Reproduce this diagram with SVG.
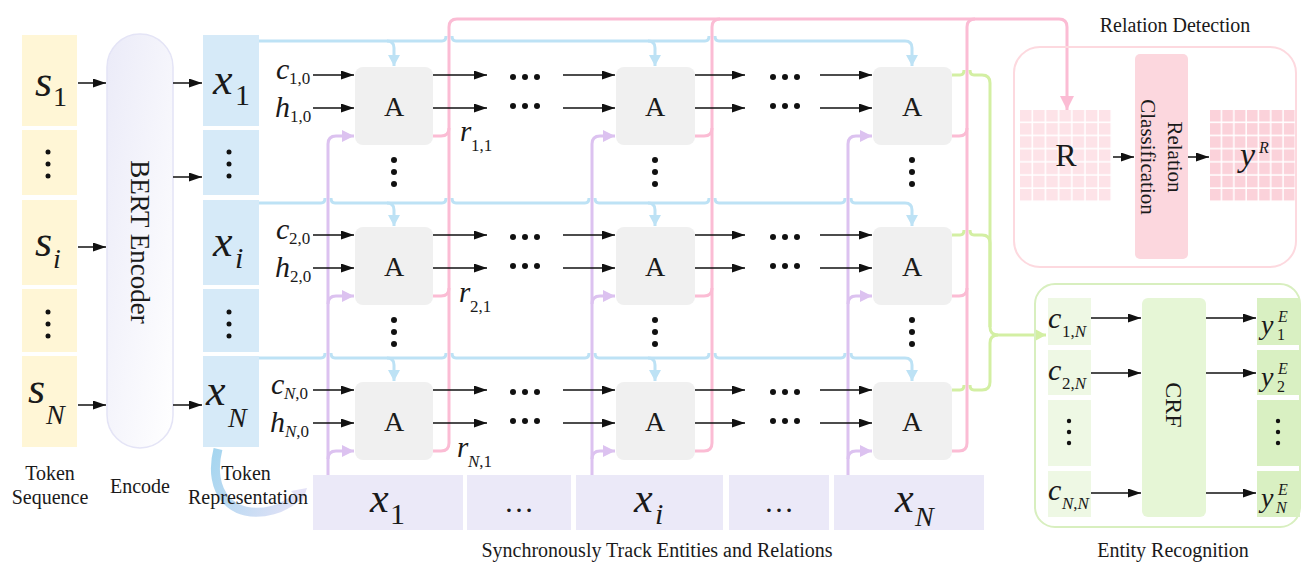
<svg xmlns="http://www.w3.org/2000/svg" width="1302" height="562" viewBox="0 0 1302 562">
<style>
.t{font-family:"Liberation Serif","Times New Roman",serif;fill:#1a1a1a}
.i{font-style:italic}
.lb{font-size:20px}
.blk{stroke:#111;stroke-width:1.5;fill:none}
.blue{stroke:#bde2f5;stroke-width:3;fill:none}
.pink{stroke:#fbbcd4;stroke-width:3;fill:none}
.purp{stroke:#dcc2f0;stroke-width:3;fill:none}
.grn{stroke:#d3efa3;stroke-width:3;fill:none}
.ybox{fill:#fff6d6}
.bbox{fill:#d6eaf8}
.abox{fill:#f0f0f0}
.xbox{fill:#ebe9f8}
.d{fill:#111}
</style>
<defs>
<marker id="ab" markerUnits="userSpaceOnUse" markerWidth="14" markerHeight="9" refX="13" refY="4.5" orient="auto"><path d="M0,0 L13,4.5 L0,9 z" fill="#111"/></marker>
<marker id="abl" markerUnits="userSpaceOnUse" markerWidth="13" markerHeight="12" refX="11" refY="6" orient="auto"><path d="M0,0 L11,6 L0,12 z" fill="#bde2f5"/></marker>
<marker id="apu" markerUnits="userSpaceOnUse" markerWidth="13" markerHeight="12" refX="12" refY="6" orient="auto"><path d="M0,0 L12,6 L0,12 z" fill="#dcc2f0"/></marker>
<marker id="api" markerUnits="userSpaceOnUse" markerWidth="15" markerHeight="14" refX="14" refY="7" orient="auto"><path d="M0,0 L14,7 L0,14 z" fill="#fbbcd4"/></marker>
<marker id="agr" markerUnits="userSpaceOnUse" markerWidth="12" markerHeight="12" refX="11" refY="6" orient="auto"><path d="M0,0 L11,6 L0,12 z" fill="#d3efa3"/></marker>
<linearGradient id="bertg" x1="0" y1="0" x2="1" y2="1"><stop offset="0" stop-color="#ebebf8"/><stop offset="1" stop-color="#ffffff"/></linearGradient>
<linearGradient id="curg" gradientUnits="userSpaceOnUse" x1="210" y1="450" x2="305" y2="500"><stop offset="0" stop-color="#a3d5ef"/><stop offset="1" stop-color="#e4e2f7"/></linearGradient>
<pattern id="gR" patternUnits="userSpaceOnUse" x="1020" y="110" width="13.15" height="13.15"><rect x="0" y="0" width="11.6" height="11.6" fill="#fde3e8"/></pattern>
<pattern id="gY" patternUnits="userSpaceOnUse" x="1210" y="110" width="12.3" height="13.15"><rect x="0" y="0" width="10.8" height="11.6" fill="#fbd2da"/></pattern>
</defs>
<rect width="1302" height="562" fill="#ffffff"/>

<g id="token-sequence">
<rect class="ybox" x="22" y="35" width="55" height="91"/>
<rect class="ybox" x="22" y="130" width="55" height="65"/>
<rect class="ybox" x="22" y="200" width="55" height="85"/>
<rect class="ybox" x="22" y="289" width="55" height="63"/>
<rect class="ybox" x="22" y="356" width="55" height="91"/>
<text class="t i" x="35" y="96" font-size="44">s</text><text class="t" x="53" y="106" font-size="28">1</text>
<circle class="d" cx="48" cy="152" r="2.5"/><circle class="d" cx="48" cy="164" r="2.5"/><circle class="d" cx="48" cy="176" r="2.5"/>
<text class="t i" x="35" y="256" font-size="44">s</text><text class="t i" x="53" y="268" font-size="28">i</text>
<circle class="d" cx="48" cy="312" r="2.5"/><circle class="d" cx="48" cy="324" r="2.5"/><circle class="d" cx="48" cy="336" r="2.5"/>
<text class="t i" x="28" y="403" font-size="44">s</text><text class="t i" x="46" y="424" font-size="28">N</text>
<text class="t lb" x="50" y="480" text-anchor="middle">Token</text>
<text class="t lb" x="50" y="504" text-anchor="middle">Sequence</text>
</g>

<g id="bert-encoder">
<rect x="107" y="34" width="66" height="414" rx="33" fill="url(#bertg)" stroke="#e4e4f6" stroke-width="1.5"/>
<text class="t" font-size="27" text-anchor="middle" transform="translate(131,242) rotate(90)">BERT Encoder</text>
<text class="t lb" x="140" y="493" text-anchor="middle">Encode</text>
</g>

<g id="token-representation">
<path d="M 218 449 C 207 492 232 521 273 510 C 284 507 291 502 297 497" stroke="url(#curg)" stroke-width="9" fill="none"/>
<polygon points="307,488 302,503 291,491" fill="#e4e2f7"/>
<rect class="bbox" x="203" y="35" width="56" height="91"/>
<rect class="bbox" x="203" y="130" width="56" height="65"/>
<rect class="bbox" x="203" y="200" width="56" height="85"/>
<rect class="bbox" x="203" y="289" width="56" height="63"/>
<rect class="bbox" x="203" y="356" width="56" height="91"/>
<text class="t i" x="213" y="94" font-size="44">x</text><text class="t" x="235" y="105" font-size="30">1</text>
<circle class="d" cx="229" cy="152" r="2.5"/><circle class="d" cx="229" cy="164" r="2.5"/><circle class="d" cx="229" cy="176" r="2.5"/>
<text class="t i" x="213" y="256" font-size="44">x</text><text class="t i" x="235" y="268" font-size="30">i</text>
<circle class="d" cx="229" cy="312" r="2.5"/><circle class="d" cx="229" cy="324" r="2.5"/><circle class="d" cx="229" cy="336" r="2.5"/>
<text class="t i" x="206" y="405" font-size="44">x</text><text class="t i" x="228" y="427" font-size="28">N</text>
<text class="t lb" x="246" y="480" text-anchor="middle">Token</text>
<text class="t lb" x="248" y="504" text-anchor="middle">Representation</text>
</g>

<g id="connectors">
<path class="blk" d="M78 83H106" marker-end="url(#ab)"/>
<path class="blk" d="M78 247H106" marker-end="url(#ab)"/>
<path class="blk" d="M78 405H106" marker-end="url(#ab)"/>
<path class="blk" d="M173 83H202" marker-end="url(#ab)"/>
<path class="blk" d="M173 177H202" marker-end="url(#ab)"/>
<path class="blk" d="M173 405H202" marker-end="url(#ab)"/>

<path class="blue" d="M259 41H442Q446 41 446 36M452 36Q452 41 456 41H705Q709 41 709 36M715 36Q715 41 719 41H905Q912 41 912 48V66" marker-end="url(#abl)"/>
<path class="blue" d="M387 41Q394 41 394 48V66" marker-end="url(#abl)"/>
<path class="blue" d="M648 41Q655 41 655 48V66" marker-end="url(#abl)"/>

<path class="blue" d="M259 203H321Q325 203 325 198M331 198Q331 203 335 203H442Q446 203 446 198M452 198Q452 203 456 203H585Q589 203 589 198M595 198Q595 203 599 203H705Q709 203 709 198M715 198Q715 203 719 203H841Q845 203 845 198M851 198Q851 203 855 203H905Q912 203 912 210V226" marker-end="url(#abl)"/>
<path class="blue" d="M387 203Q394 203 394 210V226" marker-end="url(#abl)"/>
<path class="blue" d="M648 203Q655 203 655 210V226" marker-end="url(#abl)"/>

<path class="blue" d="M259 358H321Q325 358 325 353M331 353Q331 358 335 358H442Q446 358 446 353M452 353Q452 358 456 358H585Q589 358 589 353M595 353Q595 358 599 358H705Q709 358 709 353M715 353Q715 358 719 358H841Q845 358 845 353M851 353Q851 358 855 358H905Q912 358 912 365V381" marker-end="url(#abl)"/>
<path class="blue" d="M387 358Q394 358 394 365V381" marker-end="url(#abl)"/>
<path class="blue" d="M648 358Q655 358 655 365V381" marker-end="url(#abl)"/>

<path class="purp" d="M328 475V144Q328 136 336 136H354" marker-end="url(#apu)"/>
<path class="purp" d="M328 304Q328 296 336 296H354" marker-end="url(#apu)"/>
<path class="purp" d="M328 459Q328 451 336 451H354" marker-end="url(#apu)"/>
<path class="purp" d="M592 475V144Q592 136 600 136H615" marker-end="url(#apu)"/>
<path class="purp" d="M592 304Q592 296 600 296H615" marker-end="url(#apu)"/>
<path class="purp" d="M592 459Q592 451 600 451H615" marker-end="url(#apu)"/>
<path class="purp" d="M848 475V144Q848 136 856 136H872" marker-end="url(#apu)"/>
<path class="purp" d="M848 304Q848 296 856 296H872" marker-end="url(#apu)"/>
<path class="purp" d="M848 459Q848 451 856 451H872" marker-end="url(#apu)"/>

<path class="pink" d="M433 451H441Q449 451 449 443V27Q449 19 457 19H1059Q1067 19 1067 27V110" marker-end="url(#api)"/>
<path class="pink" d="M433 136H441Q449 136 449 128"/>
<path class="pink" d="M433 296H441Q449 296 449 288"/>
<path class="pink" d="M695 451H704Q712 451 712 443V27Q712 19 720 19"/>
<path class="pink" d="M695 136H704Q712 136 712 128"/>
<path class="pink" d="M695 296H704Q712 296 712 288"/>
<path class="pink" d="M952 451H959Q967 451 967 443V27Q967 19 975 19"/>
<path class="pink" d="M952 136H959Q967 136 967 128"/>
<path class="pink" d="M952 296H959Q967 296 967 288"/>

<path class="grn" d="M952 75H960Q964 75 964 70M970 70Q970 75 974 75H982Q990 75 990 83V327Q990 335 998 335H1046" marker-end="url(#agr)"/>
<path class="grn" d="M952 235H960Q964 235 964 230M970 230Q970 235 974 235H982Q990 235 990 243V327"/>
<path class="grn" d="M952 390H960Q964 390 964 385M970 385Q970 390 974 390H982Q990 390 990 382V343Q990 335 998 335"/>

<path class="blk" d="M313 75H354" marker-end="url(#ab)"/>
<path class="blk" d="M313 108H354" marker-end="url(#ab)"/>
<path class="blk" d="M433 75H487" marker-end="url(#ab)"/>
<path class="blk" d="M433 108H487" marker-end="url(#ab)"/>
<path class="blk" d="M563 75H615" marker-end="url(#ab)"/>
<path class="blk" d="M563 108H615" marker-end="url(#ab)"/>
<path class="blk" d="M695 75H745" marker-end="url(#ab)"/>
<path class="blk" d="M695 108H745" marker-end="url(#ab)"/>
<path class="blk" d="M820 75H872" marker-end="url(#ab)"/>
<path class="blk" d="M820 108H872" marker-end="url(#ab)"/>

<path class="blk" d="M313 235H354" marker-end="url(#ab)"/>
<path class="blk" d="M313 268H354" marker-end="url(#ab)"/>
<path class="blk" d="M433 235H487" marker-end="url(#ab)"/>
<path class="blk" d="M433 268H487" marker-end="url(#ab)"/>
<path class="blk" d="M563 235H615" marker-end="url(#ab)"/>
<path class="blk" d="M563 268H615" marker-end="url(#ab)"/>
<path class="blk" d="M695 235H745" marker-end="url(#ab)"/>
<path class="blk" d="M695 268H745" marker-end="url(#ab)"/>
<path class="blk" d="M820 235H872" marker-end="url(#ab)"/>
<path class="blk" d="M820 268H872" marker-end="url(#ab)"/>

<path class="blk" d="M313 390H354" marker-end="url(#ab)"/>
<path class="blk" d="M313 423H354" marker-end="url(#ab)"/>
<path class="blk" d="M433 390H487" marker-end="url(#ab)"/>
<path class="blk" d="M433 423H487" marker-end="url(#ab)"/>
<path class="blk" d="M563 390H615" marker-end="url(#ab)"/>
<path class="blk" d="M563 423H615" marker-end="url(#ab)"/>
<path class="blk" d="M695 390H745" marker-end="url(#ab)"/>
<path class="blk" d="M695 423H745" marker-end="url(#ab)"/>
<path class="blk" d="M820 390H872" marker-end="url(#ab)"/>
<path class="blk" d="M820 423H872" marker-end="url(#ab)"/>

<path class="blk" d="M1113 157H1134" marker-end="url(#ab)"/>
<path class="blk" d="M1188 157H1209" marker-end="url(#ab)"/>
<path class="blk" d="M1091 318H1141" marker-end="url(#ab)"/>
<path class="blk" d="M1091 373H1141" marker-end="url(#ab)"/>
<path class="blk" d="M1091 493H1141" marker-end="url(#ab)"/>
<path class="blk" d="M1206 318H1256" marker-end="url(#ab)"/>
<path class="blk" d="M1206 373H1256" marker-end="url(#ab)"/>
<path class="blk" d="M1206 493H1256" marker-end="url(#ab)"/>
</g>

<g id="cell-1-1"><rect class="abox" x="355" y="67" width="78" height="78" rx="8"/><text class="t" x="394" y="116" font-size="28" text-anchor="middle">A</text></g>
<g id="cell-1-i"><rect class="abox" x="616" y="67" width="79" height="78" rx="8"/><text class="t" x="655" y="116" font-size="28" text-anchor="middle">A</text></g>
<g id="cell-1-N"><rect class="abox" x="873" y="67" width="79" height="78" rx="8"/><text class="t" x="912" y="116" font-size="28" text-anchor="middle">A</text></g>
<g id="cell-2-1"><rect class="abox" x="355" y="227" width="78" height="78" rx="8"/><text class="t" x="394" y="276" font-size="28" text-anchor="middle">A</text></g>
<g id="cell-2-i"><rect class="abox" x="616" y="227" width="79" height="78" rx="8"/><text class="t" x="655" y="276" font-size="28" text-anchor="middle">A</text></g>
<g id="cell-2-N"><rect class="abox" x="873" y="227" width="79" height="78" rx="8"/><text class="t" x="912" y="276" font-size="28" text-anchor="middle">A</text></g>
<g id="cell-3-1"><rect class="abox" x="355" y="382" width="78" height="78" rx="8"/><text class="t" x="394" y="431" font-size="28" text-anchor="middle">A</text></g>
<g id="cell-3-i"><rect class="abox" x="616" y="382" width="79" height="78" rx="8"/><text class="t" x="655" y="431" font-size="28" text-anchor="middle">A</text></g>
<g id="cell-3-N"><rect class="abox" x="873" y="382" width="79" height="78" rx="8"/><text class="t" x="912" y="431" font-size="28" text-anchor="middle">A</text></g>

<g id="grid-labels">
<text class="t i" x="276" y="79" font-size="30">c</text><text class="t" x="289" y="84" font-size="17">1,0</text>
<text class="t i" x="275" y="117" font-size="30">h</text><text class="t" x="290" y="122" font-size="17">1,0</text>
<text class="t i" x="460" y="141" font-size="29">r</text><text class="t" x="471" y="151" font-size="17">1,1</text>
<text class="t i" x="276" y="239" font-size="30">c</text><text class="t" x="289" y="244" font-size="17">2,0</text>
<text class="t i" x="275" y="277" font-size="30">h</text><text class="t" x="290" y="282" font-size="17">2,0</text>
<text class="t i" x="459" y="302" font-size="29">r</text><text class="t" x="470" y="312" font-size="17">2,1</text>
<text class="t i" x="271" y="394" font-size="30">c</text><text class="t" x="284" y="399" font-size="17"><tspan class="i">N</tspan>,0</text>
<text class="t i" x="270" y="432" font-size="30">h</text><text class="t" x="285" y="437" font-size="17"><tspan class="i">N</tspan>,0</text>
<text class="t i" x="457" y="457" font-size="29">r</text><text class="t" x="468" y="467" font-size="17"><tspan class="i">N</tspan>,1</text>
</g>

<g id="ellipsis-dots">
<g class="d">
<circle cx="513" cy="77" r="3"/><circle cx="525" cy="77" r="3"/><circle cx="537" cy="77" r="3"/>
<circle cx="513" cy="106" r="3"/><circle cx="525" cy="106" r="3"/><circle cx="537" cy="106" r="3"/>
<circle cx="773" cy="77" r="3"/><circle cx="785" cy="77" r="3"/><circle cx="797" cy="77" r="3"/>
<circle cx="773" cy="106" r="3"/><circle cx="785" cy="106" r="3"/><circle cx="797" cy="106" r="3"/>
<circle cx="513" cy="237" r="3"/><circle cx="525" cy="237" r="3"/><circle cx="537" cy="237" r="3"/>
<circle cx="513" cy="266" r="3"/><circle cx="525" cy="266" r="3"/><circle cx="537" cy="266" r="3"/>
<circle cx="773" cy="237" r="3"/><circle cx="785" cy="237" r="3"/><circle cx="797" cy="237" r="3"/>
<circle cx="773" cy="266" r="3"/><circle cx="785" cy="266" r="3"/><circle cx="797" cy="266" r="3"/>
<circle cx="513" cy="392" r="3"/><circle cx="525" cy="392" r="3"/><circle cx="537" cy="392" r="3"/>
<circle cx="513" cy="421" r="3"/><circle cx="525" cy="421" r="3"/><circle cx="537" cy="421" r="3"/>
<circle cx="773" cy="392" r="3"/><circle cx="785" cy="392" r="3"/><circle cx="797" cy="392" r="3"/>
<circle cx="773" cy="421" r="3"/><circle cx="785" cy="421" r="3"/><circle cx="797" cy="421" r="3"/>
<circle cx="394" cy="160" r="3"/><circle cx="394" cy="172" r="3"/><circle cx="394" cy="184" r="3"/>
<circle cx="655" cy="160" r="3"/><circle cx="655" cy="172" r="3"/><circle cx="655" cy="184" r="3"/>
<circle cx="912" cy="160" r="3"/><circle cx="912" cy="172" r="3"/><circle cx="912" cy="184" r="3"/>
<circle cx="394" cy="320" r="3"/><circle cx="394" cy="332" r="3"/><circle cx="394" cy="344" r="3"/>
<circle cx="655" cy="320" r="3"/><circle cx="655" cy="332" r="3"/><circle cx="655" cy="344" r="3"/>
<circle cx="912" cy="320" r="3"/><circle cx="912" cy="332" r="3"/><circle cx="912" cy="344" r="3"/>
</g>
</g>

<g id="track-inputs">
<rect class="xbox" x="313" y="475" width="150" height="55"/>
<rect class="xbox" x="467" y="475" width="104" height="55"/>
<rect class="xbox" x="576" y="475" width="147" height="55"/>
<rect class="xbox" x="729" y="475" width="100" height="55"/>
<rect class="xbox" x="834" y="475" width="150" height="55"/>
<text class="t i" x="370" y="512" font-size="42">x</text><text class="t" x="390" y="524" font-size="30">1</text>
<text class="t" x="519" y="512" font-size="30" text-anchor="middle">…</text>
<text class="t i" x="634" y="512" font-size="42">x</text><text class="t i" x="655" y="524" font-size="30">i</text>
<text class="t" x="779" y="512" font-size="30" text-anchor="middle">…</text>
<text class="t i" x="895" y="512" font-size="42">x</text><text class="t i" x="915" y="526" font-size="28">N</text>
<text class="t lb" x="657" y="557" text-anchor="middle">Synchronously Track Entities and Relations</text>
</g>

<g id="relation-detection">
<text class="t lb" x="1175" y="32" text-anchor="middle">Relation Detection</text>
<rect x="1014" y="47" width="282" height="220" rx="26" fill="none" stroke="#fdd9df" stroke-width="2"/>
<rect x="1020" y="110" width="92" height="92" fill="url(#gR)"/>
<text class="t" x="1066" y="166" font-size="32" text-anchor="middle">R</text>
<rect x="1135" y="54" width="53" height="205" rx="5" fill="#fcd7de"/>
<text class="t" font-size="21" text-anchor="middle" transform="translate(1168,157) rotate(90)">Relation</text>
<text class="t" font-size="21" text-anchor="middle" transform="translate(1141,157) rotate(90)">Classification</text>
<rect x="1210" y="110" width="86" height="92" fill="url(#gY)"/>
<text class="t i" x="1240" y="166" font-size="34">y</text><text class="t i" x="1259" y="153" font-size="16">R</text>
</g>

<g id="entity-recognition">
<rect x="1035" y="284" width="265" height="243" rx="20" fill="none" stroke="#d8efbf" stroke-width="2"/>
<rect x="1048" y="298" width="43" height="47" fill="#eef8e4"/>
<rect x="1048" y="350" width="43" height="45" fill="#eef8e4"/>
<rect x="1048" y="400" width="43" height="66" fill="#eef8e4"/>
<rect x="1048" y="471" width="43" height="46" fill="#eef8e4"/>
<text class="t i" x="1048" y="328" font-size="30">c</text><text class="t" x="1062" y="337" font-size="17">1,<tspan class="i">N</tspan></text>
<text class="t i" x="1048" y="380" font-size="30">c</text><text class="t" x="1062" y="389" font-size="17">2,<tspan class="i">N</tspan></text>
<circle class="d" cx="1069" cy="421" r="2.2"/><circle class="d" cx="1069" cy="432" r="2.2"/><circle class="d" cx="1069" cy="443" r="2.2"/>
<text class="t i" x="1048" y="500" font-size="30">c</text><text class="t" x="1062" y="509" font-size="17"><tspan class="i">N</tspan>,<tspan class="i">N</tspan></text>
<rect x="1142" y="298" width="64" height="219" rx="6" fill="#e6f6d6"/>
<text class="t" font-size="24" text-anchor="middle" transform="translate(1166,405) rotate(90)">CRF</text>
<rect x="1257" y="298" width="43" height="47" fill="#d9f0c2"/>
<rect x="1257" y="350" width="43" height="45" fill="#d9f0c2"/>
<rect x="1257" y="400" width="43" height="66" fill="#d9f0c2"/>
<rect x="1257" y="471" width="43" height="46" fill="#d9f0c2"/>
<text class="t i" x="1261" y="334" font-size="28">y</text><text class="t i" x="1278" y="322" font-size="16">E</text><text class="t" x="1277" y="340" font-size="16">1</text>
<text class="t i" x="1261" y="386" font-size="28">y</text><text class="t i" x="1278" y="374" font-size="16">E</text><text class="t" x="1277" y="392" font-size="16">2</text>
<circle class="d" cx="1278" cy="421" r="2.2"/><circle class="d" cx="1278" cy="432" r="2.2"/><circle class="d" cx="1278" cy="443" r="2.2"/>
<text class="t i" x="1261" y="507" font-size="28">y</text><text class="t i" x="1278" y="495" font-size="16">E</text><text class="t i" x="1276" y="513" font-size="16">N</text>
<text class="t lb" x="1173" y="557" text-anchor="middle">Entity Recognition</text>
</g>
</svg>
